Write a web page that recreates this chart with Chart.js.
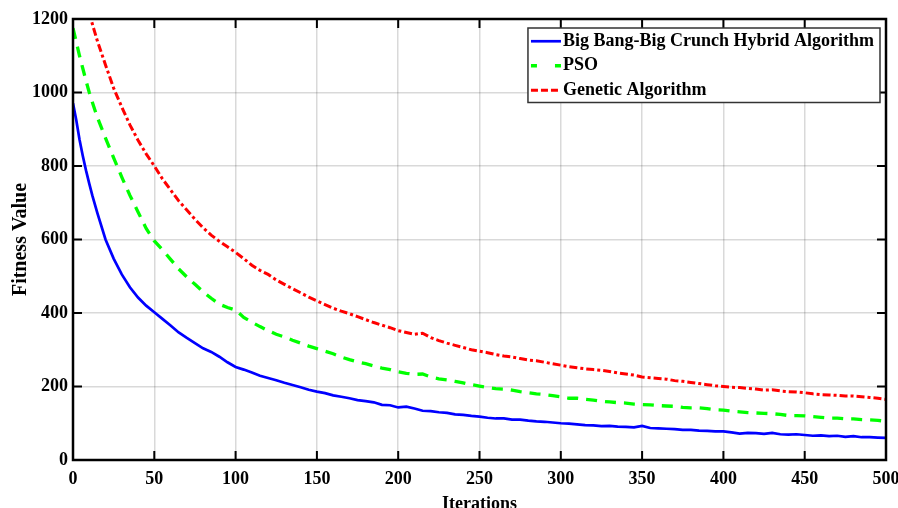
<!DOCTYPE html>
<html>
<head>
<meta charset="utf-8">
<script src="https://cdn.jsdelivr.net/npm/chart.js@4"></script>
<style>
  body { margin: 0; background: #fff; }
  #wrap { width: 898px; height: 508px; }
</style>
</head>
<body>
<div id="wrap"><canvas id="fitnessChart" width="898" height="508"></canvas></div>
<script>
const iterations = [0, 2, 4, 6, 8, 10, 12, 15,
  20, 25, 30, 35, 40, 45, 50, 55, 60, 65, 70, 75, 80, 85, 90, 95, 100,
  105, 110, 115, 120, 125, 130, 135, 140, 145, 150,
  155, 160, 165, 170, 175, 180, 185, 190, 195, 200,
  205, 210, 215, 220, 225, 230, 235, 240, 245, 250,
  255, 260, 265, 270, 275, 280, 285, 290, 295, 300,
  305, 310, 315, 320, 325, 330, 335, 340, 345, 350,
  355, 360, 365, 370, 375, 380, 385, 390, 395, 400,
  405, 410, 415, 420, 425, 430, 435, 440, 445, 450,
  455, 460, 465, 470, 475, 480, 485, 490, 495, 500];

const bbbcValues = [971, 925, 872, 828, 788, 752, 718, 672,
  600, 548, 505, 470, 442, 420, 402, 384, 366, 347, 332, 318, 304, 294, 281, 266, 253,
  246, 238, 229, 223, 217, 210, 204, 198, 191, 186,
  182, 176, 172, 168, 163, 160, 157, 150, 149, 143,
  145, 140, 134, 133, 130, 128, 124, 123, 120, 118,
  115, 113, 113, 110, 110, 107, 105, 104, 102, 100,
  99, 97, 95, 94, 92, 93, 91, 90, 89, 93,
  87, 86, 85, 84, 82, 82, 80, 79, 78, 78,
  75, 72, 74, 73, 71, 74, 70, 69, 70, 68,
  66, 67, 65, 66, 63, 65, 62, 62, 61, 60];

const psoValues = [1175, 1138, 1100, 1066, 1032, 1000, 972, 932,
  876, 822, 770, 720, 675, 630, 596, 572, 546, 520, 498, 478, 458, 440, 424, 415, 408,
  388, 375, 363, 352, 342, 335, 326, 318, 310, 303,
  296, 289, 280, 273, 267, 262, 256, 250, 246, 240,
  236, 233, 234, 226, 221, 218, 214, 210, 205, 201,
  197, 194, 193, 190, 186, 183, 180, 178, 175, 172,
  168, 168, 165, 163, 160, 158, 156, 155, 152, 151,
  150, 148, 147, 146, 143, 142, 142, 140, 137, 136,
  133, 131, 129, 128, 127, 126, 124, 121, 121, 120,
  118, 116, 114, 114, 112, 112, 110, 109, 108, 105];

const gaValues = [1400, 1360, 1322, 1285, 1250, 1215, 1185, 1140,
  1075, 1012, 960, 912, 870, 833, 800, 765, 735, 705, 680, 655, 632, 612, 595, 580, 565,
  548, 530, 516, 505, 490, 478, 466, 455, 443, 433,
  423, 413, 405, 398, 390, 382, 374, 367, 360, 352,
  347, 342, 345, 333, 325, 318, 312, 306, 300, 296,
  292, 287, 283, 280, 276, 272, 270, 266, 262, 258,
  254, 251, 248, 246, 244, 241, 237, 234, 231, 226,
  224, 222, 220, 216, 214, 211, 208, 205, 202, 200,
  198, 197, 195, 193, 190, 191, 188, 186, 185, 183,
  180, 178, 177, 176, 174, 174, 172, 170, 168, 165];

const seriesNames = ['Big Bang-Big Crunch Hybrid Algorithm', 'PSO', 'Genetic Algorithm'];
const xTicks = [0, 50, 100, 150, 200, 250, 300, 350, 400, 450, 500];
const yTicks = [0, 200, 400, 600, 800, 1000, 1200];

const FONT = "'Liberation Serif', 'Times New Roman', serif";

function toPoints(vals) {
  return iterations.map((x, i) => ({ x: x, y: vals[i] }));
}

// box round the plot with inward tick marks on all four sides
const frameBox = {
  id: 'frameBox',
  afterDatasetsDraw(chart) {
    const ctx = chart.ctx;
    const a = chart.chartArea;
    const xs = chart.scales.x, ys = chart.scales.y;
    const len = 9;
    ctx.save();
    ctx.strokeStyle = '#000';
    ctx.lineWidth = 2;
    ctx.beginPath();
    xTicks.forEach(v => {
      const px = xs.getPixelForValue(v);
      ctx.moveTo(px, a.bottom); ctx.lineTo(px, a.bottom - len);
      ctx.moveTo(px, a.top); ctx.lineTo(px, a.top + len);
    });
    yTicks.forEach(v => {
      const py = ys.getPixelForValue(v);
      ctx.moveTo(a.left, py); ctx.lineTo(a.left + len, py);
      ctx.moveTo(a.right, py); ctx.lineTo(a.right - len, py);
    });
    ctx.stroke();
    ctx.lineWidth = 2.5;
    ctx.strokeRect(a.left, a.top, a.right - a.left, a.bottom - a.top);
    ctx.restore();
  }
};

// legend box inside the plot, top right
const innerLegend = {
  id: 'innerLegend',
  afterDraw(chart) {
    const ctx = chart.ctx;
    const a = chart.chartArea;
    const boxRight = a.right - 6, boxTop = a.top + 9;
    const rowH = 24.5, sample = 30;
    ctx.save();
    ctx.font = 'bold 18px ' + FONT;
    let w = 0;
    chart.data.datasets.forEach(ds => { w = Math.max(w, ctx.measureText(ds.label).width); });
    const boxW = 3 + sample + 3 + w + 5;
    const boxH = rowH * chart.data.datasets.length + 1;
    const boxLeft = boxRight - boxW;
    ctx.fillStyle = '#fff';
    ctx.fillRect(boxLeft, boxTop, boxW, boxH);
    ctx.strokeStyle = '#333';
    ctx.lineWidth = 1.5;
    ctx.strokeRect(boxLeft, boxTop, boxW, boxH);
    chart.data.datasets.forEach((ds, i) => {
      const cy = boxTop + rowH * i + rowH / 2 + 1;
      ctx.beginPath();
      ctx.strokeStyle = ds.borderColor;
      ctx.lineWidth = ds.borderWidth;
      ctx.setLineDash(ds.legendDash || []);
      ctx.moveTo(boxLeft + 3, cy);
      ctx.lineTo(boxLeft + 3 + sample, cy);
      ctx.stroke();
      ctx.setLineDash([]);
      ctx.fillStyle = '#000';
      ctx.textBaseline = 'middle';
      ctx.textAlign = 'left';
      ctx.fillText(ds.label, boxLeft + 3 + sample + 2, cy);
    });
    ctx.restore();
  }
};

const ctx = document.getElementById('fitnessChart');
new Chart(ctx, {
  type: 'line',
  data: {
    datasets: [
      {
        label: seriesNames[0],
        data: toPoints(bbbcValues),
        borderColor: '#0000ff',
        borderWidth: 2.7,
        legendDash: [],
        pointRadius: 0,
        tension: 0,
        clip: 0
      },
      {
        label: seriesNames[1],
        data: toPoints(psoValues),
        borderColor: '#00ff00',
        borderWidth: 3.3,
        borderDash: [11, 8],
        legendDash: [6, 18],
        pointRadius: 0,
        tension: 0,
        clip: 0
      },
      {
        label: seriesNames[2],
        data: toPoints(gaValues),
        borderColor: '#ff0000',
        borderWidth: 3,
        borderDash: [8, 3, 3, 3],
        legendDash: [7, 3],
        pointRadius: 0,
        tension: 0,
        clip: 0
      }
    ]
  },
  options: {
    responsive: false,
    animation: false,
    events: [],
    layout: { padding: { top: 19, right: 12, left: 0, bottom: 0 } },
    plugins: {
      legend: { display: false },
      tooltip: { enabled: false }
    },
    scales: {
      x: {
        type: 'linear',
        min: 0,
        max: 500,
        afterFit: s => { s.height = 48; s.paddingLeft = 0; s.paddingRight = 0; },
        afterBuildTicks: s => { s.ticks = xTicks.map(v => ({ value: v })); },
        grid: { color: 'rgba(0,0,0,0.15)', lineWidth: 1.5, drawTicks: false },
        border: { display: false },
        ticks: {
          color: '#000', padding: 9, maxRotation: 0,
          callback: v => String(v),
          font: { family: FONT, size: 18, weight: 'bold' }
        },
        title: {
          display: true,
          text: 'Iterations',
          color: '#000',
          padding: { top: 0, bottom: -5 },
          font: { family: FONT, size: 18, weight: 'bold', lineHeight: 1 }
        }
      },
      y: {
        min: 0,
        max: 1200,
        afterFit: s => { s.width = 73; s.paddingTop = 0; s.paddingBottom = 0; },
        afterBuildTicks: s => { s.ticks = yTicks.map(v => ({ value: v })); },
        grid: { color: 'rgba(0,0,0,0.15)', lineWidth: 1.5, drawTicks: false },
        border: { display: false },
        ticks: {
          color: '#000', padding: 5,
          callback: v => String(v),
          font: { family: FONT, size: 18, weight: 'bold' }
        },
        title: {
          display: true,
          text: 'Fitness Value',
          color: '#000',
          padding: { top: 11, bottom: 0 },
          font: { family: FONT, size: 20, weight: 'bold', lineHeight: 1 }
        }
      }
    }
  },
  plugins: [frameBox, innerLegend]
});
</script>
</body>
</html>
